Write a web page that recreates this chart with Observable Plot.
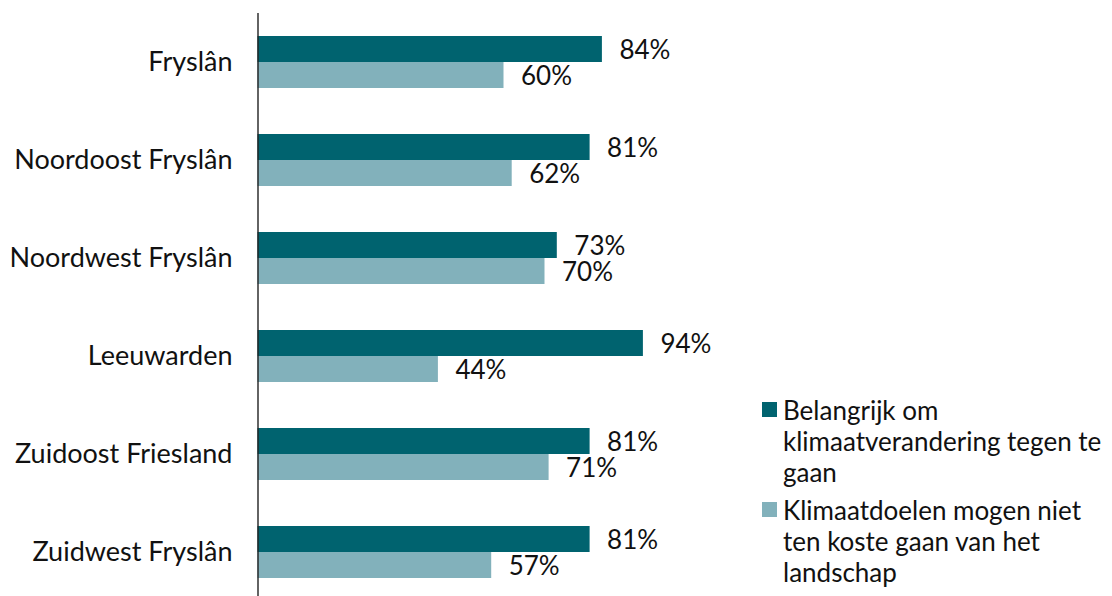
<!DOCTYPE html>
<html>
<head>
<meta charset="utf-8">
<script src="https://cdn.jsdelivr.net/npm/d3@7"></script>
<script src="https://cdn.jsdelivr.net/npm/@observablehq/plot@0.6"></script>
<style>
  html, body { margin: 0; padding: 0; background: #fff; }
  #wrap { position: relative; width: 1112px; height: 596px; font-family: Lato, "Noto Sans", sans-serif; }
  #legend { position: absolute; left: 762px; top: 395px; width: 350px; color: #111; font-size: 26px; line-height: 31px; }
  .item { display: flex; align-items: flex-start; margin-bottom: 7px; }
  .sw { width: 15px; height: 15px; margin-top: 7px; margin-right: 6px; flex: none; }
  .lbl { width: 335px; }
</style>
</head>
<body>
<div id="wrap"></div>
<script>
const categories = ["Fryslân", "Noordoost Fryslân", "Noordwest Fryslân", "Leeuwarden", "Zuidoost Friesland", "Zuidwest Fryslân"];
const seriesNames = ["Belangrijk om klimaatverandering tegen te gaan", "Klimaatdoelen mogen niet ten koste gaan van het landschap"];
const belangrijk = [84, 81, 73, 94, 81, 81];
const klimaatdoelen = [60, 62, 70, 44, 71, 57];
const colors = ["#00636f", "#82b1bb"];

const dark = categories.map((c, i) => ({cat: c, v: belangrijk[i]}));
const light = categories.map((c, i) => ({cat: c, v: klimaatdoelen[i]}));

const chart = Plot.plot({
  width: 1112,
  height: 596,
  marginTop: 13,
  marginBottom: 0,
  marginLeft: 258,
  marginRight: 0,
  style: {fontFamily: "Lato, 'Noto Sans', sans-serif", fontSize: "26px", color: "#111", background: "#fff"},
  x: {domain: [0, 100], range: [257.5, 667.5], axis: null},
  y: {domain: categories, range: [13, 601], padding: 0, label: null},
  marks: [
    Plot.barX(dark, {x: "v", y: "cat", fill: colors[0], insetTop: 23, insetBottom: 49}),
    Plot.barX(light, {x: "v", y: "cat", fill: colors[1], insetTop: 49, insetBottom: 23}),
    Plot.text(dark, {x: "v", y: "cat", text: d => d.v + "%", dx: 17, dy: -12, textAnchor: "start", fill: "#111", fontSize: 26}),
    Plot.text(light, {x: "v", y: "cat", text: d => d.v + "%", dx: 17, dy: 14, textAnchor: "start", fill: "#111", fontSize: 26}),
    Plot.axisY({tickSize: 0, tickPadding: 26, fontSize: 27, fill: "#111", label: null}),
    Plot.ruleX([0], {stroke: "#222", strokeWidth: 1.4})
  ]
});

const wrap = document.getElementById("wrap");
wrap.appendChild(chart);

const legend = document.createElement("div");
legend.id = "legend";
seriesNames.forEach((name, i) => {
  const item = document.createElement("div");
  item.className = "item";
  const sw = document.createElement("div");
  sw.className = "sw";
  sw.style.background = colors[i];
  const lbl = document.createElement("div");
  lbl.className = "lbl";
  lbl.textContent = name;
  item.appendChild(sw);
  item.appendChild(lbl);
  legend.appendChild(item);
});
wrap.appendChild(legend);
</script>
</body>
</html>
